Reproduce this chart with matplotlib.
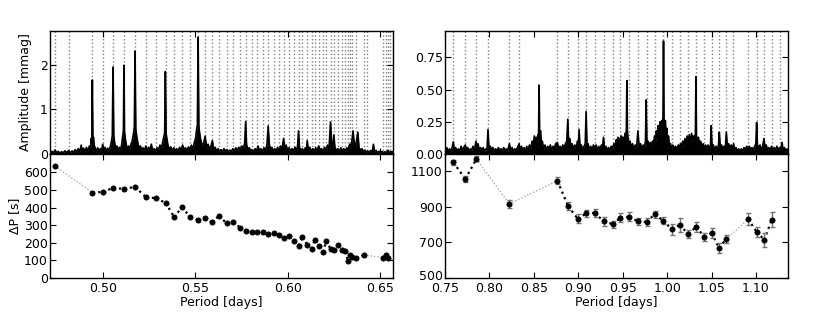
import matplotlib
matplotlib.use("Agg")
import matplotlib.pyplot as plt
import matplotlib.transforms as mtransforms
import numpy as np

# ---------------- data ----------------
left_periods = [0.4742, 0.4944, 0.5000, 0.5056, 0.5115, 0.5175, 0.5234, 0.5288, 0.5341, 0.5387,
                0.5427, 0.5474, 0.5514, 0.5553, 0.5591, 0.5629, 0.5670, 0.5706, 0.5742, 0.5775,
                0.5805, 0.5836, 0.5865, 0.5895, 0.5924, 0.5953, 0.5982, 0.6007, 0.6034, 0.6059,
                0.6079, 0.6106, 0.6130, 0.6146, 0.6171, 0.6192, 0.6209, 0.6232, 0.6252, 0.6272,
                0.6292, 0.6311, 0.6328, 0.6338, 0.6349, 0.6369, 0.6414, 0.6514, 0.6530, 0.6542]
left_dp = [636, 486, 489, 512, 507, 518, 459, 454, 427, 345,
           401, 349, 330, 342, 317, 353, 311, 321, 287, 266,
           264, 260, 260, 249, 258, 243, 226, 236, 211, 184,
           232, 190, 165, 216, 180, 146, 213, 165, 158, 186,
           162, 152, 95, 133, 118, 116, 131, 116, 131, 112]
left_gap_after = [0, 46]          # index of segments drawn as faint gray (missing modes)
left_extra_modes = [0.4816, 0.6429, 0.6555]

right_periods = [0.7594, 0.7729, 0.7853, 0.8224, 0.8765, 0.8886, 0.8995, 0.9088, 0.9186, 0.9286,
                 0.9385, 0.9475, 0.9573, 0.9671, 0.9768, 0.9858, 0.9956, 1.0054, 1.0139, 1.0237,
                 1.0327, 1.0418, 1.0500, 1.0583, 1.0662, 1.0913, 1.1007, 1.1094, 1.1176]
right_dp = [1150, 1056, 1169, 917, 1046, 904, 832, 863, 866, 819,
            803, 838, 844, 818, 815, 857, 823, 773, 799, 748,
            787, 731, 754, 669, 718, 831, 759, 714, 827]
right_err = [16, 17, 14, 21, 19, 22, 25, 21, 24, 26,
             20, 26, 25, 19, 25, 22, 21, 32, 38, 21,
             30, 22, 27, 26, 22, 33, 27, 38, 43]
right_gap_after = [2, 3, 24]
right_extra_modes = [0.7988, 0.8330, 1.0745, 1.1272]

spec_left = [
    (0.4715,0.03),(0.4725,0.06),(0.4733,0.02),(0.4742,0.09),(0.4750,0.03),(0.4760,0.06),(0.4768,0.02),
    (0.4778,0.05),(0.4787,0.03),(0.4796,0.07),(0.4805,0.03),(0.4816,0.08),(0.4825,0.03),(0.4835,0.07),
    (0.4843,0.04),(0.4852,0.10),(0.4860,0.04),(0.4868,0.12),(0.4876,0.05),(0.4884,0.20),(0.4890,0.06),
    (0.4897,0.13),(0.4905,0.05),(0.4912,0.15),(0.4920,0.07),(0.4928,0.18),(0.4934,0.12),(0.4938,0.35),
    (0.4941,0.25),(0.4944,1.66),(0.4947,0.30),(0.4950,0.38),(0.4954,0.20),(0.4960,0.12),(0.4966,0.06),
    (0.4973,0.14),(0.4980,0.05),(0.4987,0.12),(0.4994,0.07),(0.5000,0.22),(0.5006,0.08),(0.5013,0.15),
    (0.5020,0.06),(0.5028,0.13),(0.5036,0.08),(0.5043,0.20),(0.5048,0.30),(0.5052,0.42),(0.5056,1.95),
    (0.5060,0.40),(0.5064,0.28),(0.5070,0.12),(0.5077,0.18),(0.5084,0.08),(0.5091,0.15),(0.5098,0.10),
    (0.5104,0.25),(0.5108,0.40),(0.5112,0.52),(0.5115,1.99),(0.5118,0.50),(0.5122,0.35),(0.5128,0.20),
    (0.5134,0.12),(0.5140,0.18),(0.5146,0.10),(0.5153,0.22),(0.5160,0.30),(0.5166,0.45),(0.5171,0.60),
    (0.5175,2.31),(0.5179,0.55),(0.5184,0.40),(0.5190,0.25),(0.5197,0.12),(0.5204,0.18),(0.5211,0.08),
    (0.5218,0.14),(0.5225,0.06),(0.5233,0.18),(0.5240,0.07),(0.5248,0.15),(0.5256,0.10),(0.5263,0.22),
    (0.5270,0.08),(0.5278,0.12),(0.5286,0.06),(0.5294,0.14),(0.5302,0.10),(0.5310,0.20),(0.5318,0.12),
    (0.5325,0.28),(0.5330,0.38),(0.5335,0.47),(0.5339,1.85),(0.5343,0.45),(0.5348,0.32),(0.5354,0.18),
    (0.5361,0.10),(0.5368,0.16),(0.5376,0.07),(0.5384,0.14),(0.5392,0.08),(0.5400,0.12),(0.5408,0.06),
    (0.5416,0.15),(0.5424,0.08),(0.5432,0.20),(0.5440,0.10),(0.5448,0.14),(0.5456,0.07),(0.5464,0.16),
    (0.5472,0.09),(0.5480,0.20),(0.5488,0.10),(0.5495,0.25),(0.5502,0.35),(0.5508,0.55),(0.5512,0.65),
    (0.5516,2.62),(0.5520,0.62),(0.5525,0.45),(0.5531,0.30),(0.5538,0.18),(0.5546,0.25),(0.5554,0.40),
    (0.5562,0.15),(0.5570,0.22),(0.5578,0.10),(0.5586,0.18),(0.5593,0.30),(0.5600,0.10),(0.5608,0.15),
    (0.5616,0.06),(0.5624,0.12),(0.5632,0.05),(0.5640,0.10),(0.5648,0.05),(0.5656,0.12),(0.5664,0.06),
    (0.5672,0.10),(0.5680,0.05),(0.5688,0.09),(0.5696,0.05),(0.5704,0.12),(0.5712,0.06),(0.5720,0.14),
    (0.5728,0.08),(0.5736,0.15),(0.5744,0.09),(0.5752,0.18),(0.5760,0.10),(0.5768,0.25),(0.5773,0.73),
    (0.5778,0.22),(0.5785,0.10),(0.5793,0.14),(0.5800,0.06),(0.5808,0.10),(0.5816,0.05),(0.5824,0.12),
    (0.5832,0.06),(0.5840,0.18),(0.5848,0.07),(0.5856,0.12),(0.5864,0.05),(0.5872,0.14),(0.5880,0.08),
    (0.5888,0.20),(0.5895,0.63),(0.5901,0.22),(0.5908,0.10),(0.5915,0.15),(0.5922,0.06),(0.5930,0.12),
    (0.5938,0.07),(0.5946,0.15),(0.5954,0.08),(0.5962,0.18),(0.5970,0.10),(0.5978,0.35),(0.5985,0.12),
    (0.5992,0.20),(0.6000,0.08),(0.6008,0.14),(0.6016,0.06),(0.6024,0.12),(0.6032,0.07),(0.6040,0.15),
    (0.6048,0.08),(0.6054,0.18),(0.6059,0.52),(0.6064,0.15),(0.6072,0.08),(0.6080,0.12),(0.6088,0.06),
    (0.6096,0.14),(0.6102,0.08),(0.6106,0.30),(0.6112,0.10),(0.6120,0.15),(0.6128,0.06),(0.6136,0.12),
    (0.6144,0.07),(0.6152,0.14),(0.6160,0.08),(0.6168,0.18),(0.6176,0.09),(0.6184,0.12),(0.6192,0.06),
    (0.6200,0.15),(0.6208,0.08),(0.6216,0.20),(0.6224,0.12),(0.6232,0.72),(0.6238,0.20),(0.6244,0.15),
    (0.6250,0.43),(0.6256,0.14),(0.6264,0.08),(0.6272,0.12),(0.6280,0.05),(0.6288,0.14),(0.6296,0.07),
    (0.6304,0.12),(0.6312,0.06),(0.6320,0.14),(0.6328,0.10),(0.6336,0.22),(0.6342,0.15),(0.6348,0.30),
    (0.6354,0.52),(0.6360,0.25),(0.6366,0.18),(0.6372,0.28),(0.6380,0.49),(0.6386,0.15),(0.6394,0.08),
    (0.6402,0.12),(0.6410,0.05),(0.6418,0.09),(0.6426,0.04),(0.6434,0.07),(0.6442,0.04),(0.6450,0.08),
    (0.6458,0.05),(0.6464,0.22),(0.6470,0.06),(0.6478,0.08),(0.6486,0.03),(0.6494,0.06),(0.6502,0.03),
    (0.6510,0.06),(0.6518,0.03),(0.6526,0.05),(0.6534,0.03),(0.6542,0.08),(0.6550,0.04),(0.6558,0.06),
    (0.6566,0.03),(0.6570,0.05)]

spec_right = [
    (0.7500,0.02),(0.7520,0.05),(0.7535,0.02),(0.7550,0.04),(0.7565,0.02),(0.7580,0.05),(0.7594,0.095),
    (0.7605,0.03),(0.7620,0.05),(0.7635,0.02),(0.7650,0.04),(0.7665,0.02),(0.7680,0.06),(0.7695,0.03),
    (0.7710,0.05),(0.7729,0.07),(0.7740,0.03),(0.7755,0.05),(0.7770,0.02),(0.7785,0.04),(0.7800,0.03),
    (0.7815,0.06),(0.7830,0.03),(0.7849,0.10),(0.7860,0.04),(0.7872,0.08),(0.7885,0.03),(0.7900,0.05),
    (0.7915,0.03),(0.7930,0.05),(0.7945,0.02),(0.7960,0.04),(0.7972,0.03),(0.7984,0.19),(0.7995,0.04),
    (0.8010,0.06),(0.8025,0.03),(0.8040,0.05),(0.8055,0.02),(0.8070,0.04),(0.8085,0.02),(0.8100,0.05),
    (0.8115,0.03),(0.8130,0.04),(0.8145,0.02),(0.8160,0.05),(0.8175,0.03),(0.8190,0.04),(0.8205,0.02),
    (0.8224,0.08),(0.8240,0.03),(0.8255,0.05),(0.8270,0.02),(0.8285,0.04),(0.8300,0.03),(0.8315,0.05),
    (0.8334,0.08),(0.8345,0.03),(0.8360,0.06),(0.8375,0.03),(0.8390,0.05),(0.8405,0.02),(0.8420,0.06),
    (0.8435,0.03),(0.8450,0.07),(0.8465,0.04),(0.8480,0.10),(0.8492,0.05),(0.8505,0.14),(0.8515,0.07),
    (0.8525,0.13),(0.8535,0.08),(0.8545,0.15),(0.8552,0.10),(0.8559,0.535),(0.8566,0.12),(0.8575,0.18),
    (0.8585,0.08),(0.8595,0.10),(0.8610,0.04),(0.8625,0.07),(0.8640,0.03),(0.8655,0.06),(0.8670,0.04),
    (0.8685,0.07),(0.8700,0.03),(0.8715,0.06),(0.8730,0.04),(0.8745,0.08),(0.8765,0.09),(0.8780,0.04),
    (0.8795,0.06),(0.8810,0.03),(0.8825,0.07),(0.8840,0.05),(0.8855,0.08),(0.8870,0.10),(0.8882,0.27),
    (0.8892,0.08),(0.8905,0.12),(0.8918,0.05),(0.8930,0.08),(0.8945,0.04),(0.8960,0.07),(0.8975,0.04),
    (0.8990,0.10),(0.9000,0.05),(0.9009,0.19),(0.9020,0.05),(0.9035,0.07),(0.9050,0.03),(0.9065,0.06),
    (0.9078,0.08),(0.9088,0.33),(0.9098,0.06),(0.9110,0.08),(0.9125,0.03),(0.9140,0.06),(0.9155,0.03),
    (0.9170,0.07),(0.9186,0.05),(0.9200,0.07),(0.9215,0.03),(0.9230,0.06),(0.9245,0.03),(0.9260,0.07),
    (0.9272,0.04),(0.9283,0.13),(0.9295,0.04),(0.9310,0.06),(0.9325,0.03),(0.9340,0.05),(0.9355,0.03),
    (0.9370,0.06),(0.9385,0.04),(0.9400,0.08),(0.9412,0.05),(0.9425,0.11),(0.9435,0.07),(0.9445,0.13),
    (0.9455,0.08),(0.9465,0.12),(0.9475,0.09),(0.9485,0.14),(0.9495,0.07),(0.9505,0.13),(0.9515,0.08),
    (0.9525,0.16),(0.9535,0.10),(0.9541,0.20),(0.9547,0.57),(0.9553,0.18),(0.9560,0.12),(0.9570,0.07),
    (0.9582,0.10),(0.9595,0.05),(0.9610,0.08),(0.9625,0.04),(0.9640,0.07),(0.9655,0.04),(0.9671,0.18),
    (0.9685,0.05),(0.9700,0.08),(0.9715,0.04),(0.9730,0.07),(0.9745,0.05),(0.9756,0.10),(0.9764,0.42),
    (0.9772,0.08),(0.9785,0.10),(0.9798,0.05),(0.9810,0.09),(0.9822,0.05),(0.9835,0.10),(0.9845,0.07),
    (0.9858,0.14),(0.9868,0.08),(0.9878,0.18),(0.9888,0.12),(0.9898,0.22),(0.9908,0.14),(0.9918,0.25),
    (0.9928,0.15),(0.9938,0.26),(0.9946,0.18),(0.9953,0.28),(0.9959,0.877),(0.9965,0.25),(0.9972,0.18),
    (0.9980,0.26),(0.9988,0.14),(0.9996,0.20),(1.0005,0.10),(1.0015,0.14),(1.0025,0.06),(1.0038,0.08),
    (1.0050,0.04),(1.0065,0.07),(1.0080,0.04),(1.0095,0.06),(1.0110,0.03),(1.0125,0.07),(1.0139,0.05),
    (1.0150,0.08),(1.0162,0.05),(1.0175,0.10),(1.0188,0.06),(1.0200,0.12),(1.0212,0.08),(1.0225,0.14),
    (1.0237,0.10),(1.0250,0.15),(1.0262,0.09),(1.0275,0.16),(1.0288,0.10),(1.0300,0.14),(1.0310,0.10),
    (1.0318,0.16),(1.0324,0.60),(1.0330,0.14),(1.0340,0.10),(1.0352,0.13),(1.0365,0.07),(1.0378,0.10),
    (1.0390,0.05),(1.0405,0.08),(1.0418,0.04),(1.0432,0.07),(1.0445,0.04),(1.0460,0.07),(1.0475,0.04),
    (1.0488,0.07),(1.0496,0.22),(1.0505,0.05),(1.0520,0.07),(1.0535,0.03),(1.0550,0.06),(1.0565,0.04),
    (1.0578,0.07),(1.0587,0.17),(1.0598,0.05),(1.0612,0.07),(1.0625,0.04),(1.0640,0.06),(1.0655,0.05),
    (1.0666,0.17),(1.0678,0.05),(1.0692,0.08),(1.0705,0.04),(1.0720,0.07),(1.0735,0.04),(1.0748,0.08),
    (1.0760,0.03),(1.0775,0.05),(1.0790,0.02),(1.0805,0.04),(1.0820,0.02),(1.0835,0.04),(1.0850,0.02),
    (1.0865,0.05),(1.0880,0.03),(1.0895,0.06),(1.0910,0.04),(1.0925,0.06),(1.0940,0.03),(1.0955,0.05),
    (1.0970,0.03),(1.0985,0.06),(1.0998,0.08),(1.1007,0.245),(1.1016,0.07),(1.1030,0.05),(1.1045,0.07),
    (1.1060,0.03),(1.1075,0.06),(1.1090,0.12),(1.1102,0.04),(1.1115,0.07),(1.1130,0.03),(1.1145,0.05),
    (1.1160,0.03),(1.1175,0.06),(1.1190,0.03),(1.1205,0.05),(1.1220,0.03),(1.1235,0.06),(1.1250,0.03),
    (1.1265,0.05),(1.1280,0.04),(1.1293,0.09),(1.1305,0.03),(1.1320,0.05),(1.1335,0.02),(1.1350,0.04),
    (1.1360,0.03)]

left_xticks = [0.50, 0.55, 0.60, 0.65]
right_xticks = [0.75, 0.80, 0.85, 0.90, 0.95, 1.00, 1.05, 1.10]
amp_left_ticks = [0, 1, 2]
amp_right_ticks = [0.00, 0.25, 0.50, 0.75]
dp_left_ticks = [0, 100, 200, 300, 400, 500, 600]
dp_right_ticks = [500, 700, 900, 1100]

# ---------------- style ----------------
plt.rcParams.update({
    "font.family": "DejaVu Sans",
    "font.size": 9,
    "xtick.direction": "in",
    "ytick.direction": "in",
    "xtick.top": True,
    "ytick.right": True,
    "xtick.major.size": 4,
    "ytick.major.size": 4,
    "xtick.major.pad": 2.8,
    "ytick.major.pad": 1.5,
    "axes.labelpad": 1.0,
    "axes.linewidth": 1.0,
})

W, H = 830, 312
fig = plt.figure(figsize=(W / 100, H / 100), dpi=100)

def fax(x0, y0, x1, y1):
    return fig.add_axes([x0 / W, 1 - y1 / H, (x1 - x0) / W, (y1 - y0) / H])

axTL = fax(50, 31, 393, 154)
axBL = fax(50, 154, 393, 278)
axTR = fax(445, 31, 788, 154)
axBR = fax(445, 154, 788, 278)


def draw_spec(ax, spec, modes, xlim, ylim, yticks, fmt):
    p = [s[0] for s in spec]
    a = [s[1] for s in spec]
    for m in modes:
        ax.axvline(m, color="0.5", ls=":", lw=1.0, zorder=1)
    ax.fill_between(p, 0, a, color="black", lw=0, zorder=2)
    ax.plot(p, a, color="black", lw=1.2, zorder=3)
    ax.set_xlim(*xlim)
    ax.set_ylim(*ylim)
    ax.set_yticks(yticks)
    ax.set_yticklabels([fmt.format(t) for t in yticks])
    ax.tick_params(labelbottom=False)


def draw_dp(ax, per, dp, gaps, err=None):
    n = len(per)
    for i in range(n - 1):
        if i in gaps:
            ax.plot(per[i:i + 2], dp[i:i + 2], color="0.6", ls=":", lw=0.9, zorder=1)
        else:
            ax.plot(per[i:i + 2], dp[i:i + 2], color="black", ls=":", lw=1.6, zorder=1)
    if err is not None:
        ax.errorbar(per, dp, yerr=err, fmt="none", ecolor="0.45", elinewidth=1.0,
                    capsize=1.8, capthick=1.0, zorder=2)
    ax.plot(per, dp, "o", color="black", ms=3.8, mew=0.5, zorder=3)


left_modes = left_periods + left_extra_modes
right_modes = right_periods + right_extra_modes

draw_spec(axTL, spec_left, left_modes, (0.4715, 0.657), (0, 2.76), amp_left_ticks, "{:d}")
draw_spec(axTR, spec_right, right_modes, (0.75, 1.136), (0, 0.955), amp_right_ticks, "{:.2f}")
axTL.set_ylabel("Amplitude [mmag]", labelpad=6)

draw_dp(axBL, left_periods, left_dp, left_gap_after)
axBL.set_xlim(0.4715, 0.657)
axBL.set_ylim(0, 705)
axBL.set_yticks(dp_left_ticks)
axBL.set_xticks(left_xticks)
axBL.set_xticklabels(["{:.2f}".format(t) for t in left_xticks])
axBL.set_ylabel("ΔP [s]", labelpad=2)
axBL.set_xlabel("Period [days]")

draw_dp(axBR, right_periods, right_dp, right_gap_after, right_err)
axBR.set_xlim(0.75, 1.136)
axBR.set_ylim(500, 1197)
axBR.set_yticks(dp_right_ticks)
axBR.set_xticks(right_xticks)
axBR.set_xticklabels(["{:.2f}".format(t) for t in right_xticks])
axBR.set_xlabel("Period [days]")

# nudge the lowest y label of the lower-right panel up slightly so it does not touch "0.75"
shift = mtransforms.ScaledTranslation(0, 2.5 / 100, fig.dpi_scale_trans)
lbl = axBR.get_yticklabels()[0]
lbl.set_transform(lbl.get_transform() + shift)

axTL.set_xticks(left_xticks)
axTR.set_xticks(right_xticks)

fig.savefig("out.png", dpi=100)
